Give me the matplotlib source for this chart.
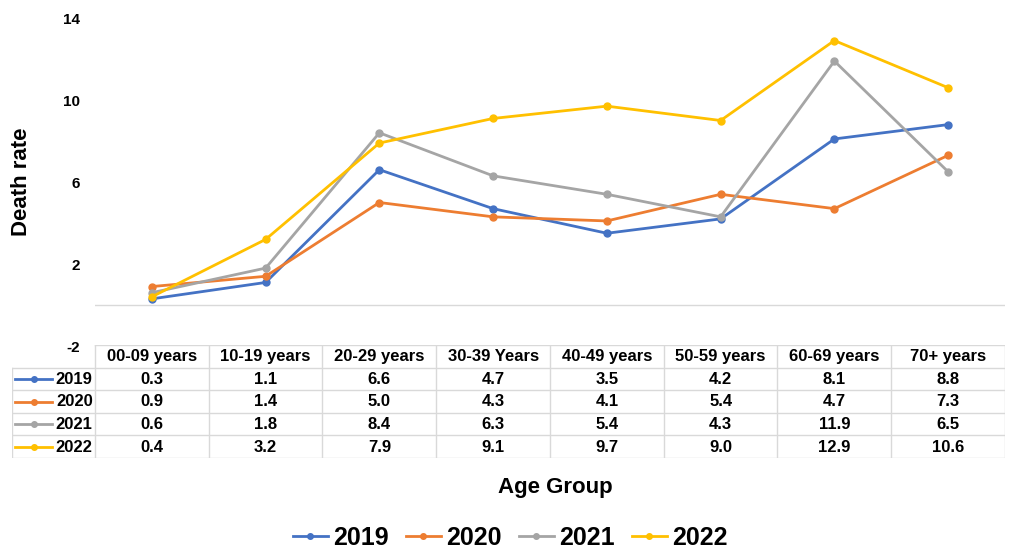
import numpy as np
import matplotlib.pyplot as plt
from matplotlib.lines import Line2D

plt.rcParams['font.family'] = ['Liberation Sans', 'DejaVu Sans']

age_groups = ['00-09 years', '10-19 years', '20-29 years', '30-39 Years',
              '40-49 years', '50-59 years', '60-69 years', '70+ years']
years = ['2019', '2020', '2021', '2022']
rate_2019 = [0.3, 1.1, 6.6, 4.7, 3.5, 4.2, 8.1, 8.8]
rate_2020 = [0.9, 1.4, 5.0, 4.3, 4.1, 5.4, 4.7, 7.3]
rate_2021 = [0.6, 1.8, 8.4, 6.3, 5.4, 4.3, 11.9, 6.5]
rate_2022 = [0.4, 3.2, 7.9, 9.1, 9.7, 9.0, 12.9, 10.6]
series = [rate_2019, rate_2020, rate_2021, rate_2022]
colors = ['#4472C4', '#ED7D31', '#A5A5A5', '#FFC000']
yticks = [-2, 2, 6, 10, 14]

W, H = 1016, 551
fig = plt.figure(figsize=(W / 100, H / 100), dpi=100)

# plot area in pixel terms of the reference
left, right, top, bottom = 95, 1005, 18, 346
ax = fig.add_axes([left / W, 1 - bottom / H, (right - left) / W, (bottom - top) / H])
x = np.arange(len(age_groups))
for vals, c, lab in zip(series, colors, years):
    ax.plot(x, vals, color=c, lw=2.0, marker='o', ms=5, label=lab, zorder=3)
ax.axhline(0, color='#D9D9D9', lw=1, zorder=1)
ax.set_xlim(-0.5, len(age_groups) - 0.5)
ax.set_ylim(-2, 14)
ax.set_yticks(yticks)
ax.set_yticklabels([str(t) for t in yticks], fontsize=11, fontweight='bold')
ax.set_xticks([])
ax.tick_params(axis='y', length=0, pad=11)
for s in ax.spines.values():
    s.set_visible(False)
ax.set_ylabel('Death rate', fontsize=16, fontweight='bold')
ax.yaxis.set_label_coords((32 - left) / (right - left), 0.5)

# data table under the plot
t_top, t_bot = 345, 458
lw_cols = 83 / ((right - left) / len(age_groups))
tax = fig.add_axes([12 / W, 1 - t_bot / H, (right - 12) / W, (t_bot - t_top) / H])
n = len(age_groups)
tax.set_xlim(-0.5 - lw_cols, n - 0.5)
tax.set_ylim(5, 0)
tax.axis('off')
grid = '#D9D9D9'
tax.plot([-0.5, n - 0.5], [0, 0], color=grid, lw=1)
for r in range(1, 6):
    tax.plot([-0.5 - lw_cols, n - 0.5], [r, r], color=grid, lw=1)
tax.plot([-0.5 - lw_cols] * 2, [1, 5], color=grid, lw=1)
for i in range(n + 1):
    tax.plot([i - 0.5] * 2, [0, 5], color=grid, lw=1)
for i, g in enumerate(age_groups):
    tax.text(i, 0.52, g, ha='center', va='center', fontsize=12, fontweight='bold')
for r, (vals, c, lab) in enumerate(zip(series, colors, years)):
    yy = r + 1.52
    for i, v in enumerate(vals):
        tax.text(i, yy, f'{v:.1f}', ha='center', va='center', fontsize=12, fontweight='bold')
    k0 = -0.5 - lw_cols + 0.03
    k1 = k0 + 0.32
    tax.plot([k0, k1], [r + 1.5, r + 1.5], color=c, lw=2)
    tax.plot([(k0 + k1) / 2], [r + 1.5], 'o', color=c, ms=4)
    tax.text(-0.52, yy, lab, ha='right', va='center', fontsize=12, fontweight='bold')

fig.text(555 / W, 1 - 488 / H, 'Age Group', ha='center', va='center',
         fontsize=16, fontweight='bold')

handles = [Line2D([], [], color=c, lw=2, marker='o', ms=4) for c in colors]
fig.legend(handles, years, loc='center', bbox_to_anchor=(510 / W, 1 - 538 / H),
           ncol=4, frameon=False, prop={'size': 18, 'weight': 'bold'},
           handlelength=1.4, columnspacing=0.7, handletextpad=0.2)

fig.savefig('out.png', dpi=100)
